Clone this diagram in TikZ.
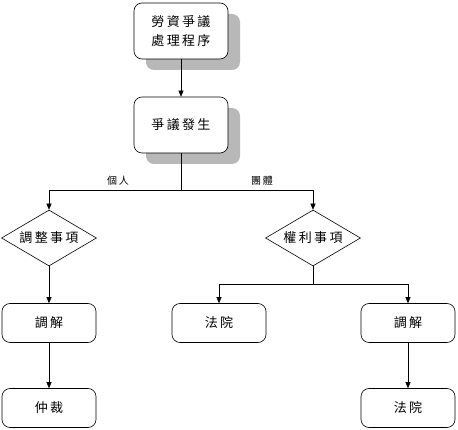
\documentclass[tikz,border=0pt]{standalone}
\usepackage{fontspec}
\newfontfamily\cjk[LetterSpace=18]{Noto Sans CJK TC}
\usetikzlibrary{shapes.geometric,arrows.meta,shadows}

\begin{document}
\begin{tikzpicture}[x=1pt,y=-1pt,line width=0.6pt,
  txt/.style={font=\cjk\fontsize{13}{19}\selectfont},
  box/.style={txt,draw,rounded corners=8pt,minimum width=94pt,minimum height=39pt,fill=white,align=center},
  topbox/.style={box,minimum height=56pt,drop shadow={shadow xshift=12pt,shadow yshift=-11pt,fill=black!28,opacity=1}},
  choice/.style={txt,draw,diamond,aspect=1.7,inner sep=0pt,minimum width=95pt,minimum height=56pt},
  arr/.style={-{Triangle[width=5pt,length=6pt]}},
  small/.style={font=\cjk\fontsize{10}{12}\selectfont}]
\useasboundingbox (0,0) rectangle (458,430);
\node[topbox] (proc) at (181,31) {勞資爭議\\處理程序};
\node[topbox] (dispute) at (181,125) {爭議發生};
\node[choice] (adjust) at (49,238) {調整事項};
\node[choice] (right) at (313,238) {權利事項};
\node[box] (med1) at (49,323) {調解};
\node[box] (court1) at (219,323) {法院};
\node[box] (med2) at (408,323) {調解};
\node[box] (arb) at (49,408) {仲裁};
\node[box] (court2) at (408,408) {法院};
\coordinate (split1) at (181,190);
\coordinate (split2) at (313,284);
\draw[arr] (proc) -- (dispute);
\draw[arr] (dispute.south) -- (split1) -| (adjust.north);
\draw[arr] (split1) -| (right.north);
\draw[arr] (adjust) -- (med1);
\draw[arr] (med1) -- (arb);
\draw[arr] (right.south) -- (split2) -| (court1.north);
\draw[arr] (split2) -| (med2.north);
\draw[arr] (med2) -- (court2);
\node[small,anchor=south] (single) at (118,189) {個人};
\node[small,anchor=south] (group) at (262,189) {團體};
\end{tikzpicture}
\end{document}
